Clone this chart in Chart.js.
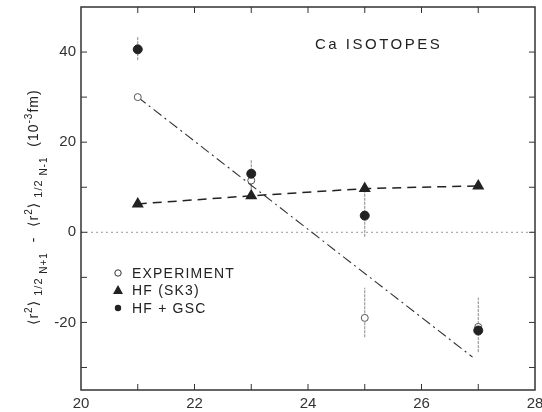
<!DOCTYPE html>
<html>
<head>
<meta charset="utf-8">
<script src="https://cdn.jsdelivr.net/npm/chart.js@4"></script>
<style>
  body { margin: 0; background: #fff; }
  #wrap { width: 542px; height: 412px; }
</style>
</head>
<body>
<div id="wrap"><canvas id="isotopes" width="542" height="412"></canvas></div>
<script>
// neutron number of the isotopes
var isotopeN = [21, 23, 25, 27];
// measured values and the two HF calculations (10^-3 fm)
var experiment = [30, 11.5, -19, -21];
var expErrHigh = [null, 13.5, -12.3, -14.5];
var expErrLow = [null, 9.5, -23.3, -26.6];
var hfSk3 = [6.3, 8.1, 9.7, 10.3];
var hfGsc = [40.6, 13, 3.7, -21.8];
var gscErrHigh = [43.3, 16, 9, null];
var gscErrLow = [38.2, 10, -1, null];
// straight line drawn through the experiment
var fitN = [21, 26.9];
var fitValue = [30, -27.7];
// axis ticks
var xTicks = [20, 22, 24, 26, 28];
var yTicks = [-20, 0, 20, 40];

var fontStack = '"Liberation Sans", "DejaVu Sans", sans-serif';
var ink = '#222';

function pts(xs, ys) {
    return xs.map(function (x, i) { return { x: x, y: ys[i] }; });
}

// no extra room for the end labels, the frame is placed by hand
function noPad(s) {
    s.paddingTop = 0; s.paddingBottom = 0; s.paddingLeft = 0; s.paddingRight = 0;
}

// frame, inward ticks, zero line, error bars, title, legend, y title
var decorations = {
    id: 'decorations',
    beforeDatasetsDraw: function (chart) {
        var ctx = chart.ctx, a = chart.chartArea;
        var xs = chart.scales.x, ys = chart.scales.y;
        ctx.save();
        // dotted zero line
        ctx.strokeStyle = '#999';
        ctx.lineWidth = 1;
        ctx.setLineDash([2, 3]);
        ctx.beginPath();
        ctx.moveTo(a.left, ys.getPixelForValue(0));
        ctx.lineTo(a.right, ys.getPixelForValue(0));
        ctx.stroke();
        // error bars
        ctx.strokeStyle = '#888';
        ctx.setLineDash([3, 1]);
        [[expErrLow, expErrHigh], [gscErrLow, gscErrHigh]].forEach(function (e) {
            isotopeN.forEach(function (n, i) {
                if (e[0][i] === null) return;
                var px = xs.getPixelForValue(n);
                ctx.beginPath();
                ctx.moveTo(px, ys.getPixelForValue(e[0][i]));
                ctx.lineTo(px, ys.getPixelForValue(e[1][i]));
                ctx.stroke();
            });
        });
        ctx.restore();
    },
    afterDraw: function (chart) {
        var ctx = chart.ctx, a = chart.chartArea;
        var xs = chart.scales.x, ys = chart.scales.y;
        ctx.save();
        ctx.strokeStyle = '#333';
        ctx.lineWidth = 1.5;
        ctx.strokeRect(a.left, a.top, a.right - a.left, a.bottom - a.top);
        ctx.lineWidth = 1;
        ctx.beginPath();
        for (var n = 21; n < 28; n++) {
            var px = xs.getPixelForValue(n);
            ctx.moveTo(px, a.bottom); ctx.lineTo(px, a.bottom - 6);
            ctx.moveTo(px, a.top); ctx.lineTo(px, a.top + 6);
        }
        for (var v = -30; v <= 40; v += 10) {
            var py = ys.getPixelForValue(v);
            ctx.moveTo(a.left, py); ctx.lineTo(a.left + 6, py);
            ctx.moveTo(a.right, py); ctx.lineTo(a.right - 6, py);
        }
        ctx.stroke();

        // title
        ctx.fillStyle = ink;
        ctx.font = '15px ' + fontStack;
        ctx.letterSpacing = '2.5px';
        ctx.textBaseline = 'middle';
        ctx.fillText('Ca ISOTOPES', 315, 45);

        // legend
        ctx.font = '14px ' + fontStack;
        ctx.letterSpacing = '1.2px';
        var legendRows = [
            { label: 'EXPERIMENT', y: 273, mark: 'open' },
            { label: 'HF (SK3)', y: 290, mark: 'tri' },
            { label: 'HF + GSC', y: 308, mark: 'dot' }
        ];
        legendRows.forEach(function (r) {
            ctx.beginPath();
            if (r.mark === 'tri') {
                ctx.moveTo(118, r.y - 5); ctx.lineTo(123, r.y + 4); ctx.lineTo(113, r.y + 4);
                ctx.closePath(); ctx.fill();
            } else {
                ctx.arc(118, r.y, 3.2, 0, Math.PI * 2);
                if (r.mark === 'dot') ctx.fill(); else { ctx.lineWidth = 1; ctx.stroke(); }
            }
            ctx.fillText(r.label, 132, r.y + 1);
        });

        // y axis title, rotated, with raised and lowered parts
        var parts = [
            ['\u27E8r', 14, 0], ['2', 10, -6], ['\u27E9', 14, 0], [' 1/2', 11, 4], [' N+1', 10, 9],
            ['  -  ', 14, 0], ['\u27E8r', 14, 0], ['2', 10, -6], ['\u27E9', 14, 0], [' 1/2', 11, 4],
            [' N-1', 10, 9], ['  (10', 14, 0], ['-3', 10, -6], ['fm)', 14, 0]
        ];
        ctx.translate(38, 325);
        ctx.rotate(-Math.PI / 2);
        ctx.textBaseline = 'alphabetic';
        ctx.letterSpacing = '1px';
        var x = 0;
        parts.forEach(function (p) {
            ctx.font = p[1] + 'px ' + fontStack;
            ctx.fillText(p[0], x, p[2]);
            x += ctx.measureText(p[0]).width;
        });
        ctx.restore();
    }
};

new Chart(document.getElementById('isotopes').getContext('2d'), {
    type: 'scatter',
    data: {
        datasets: [{
            label: 'HF + GSC',
            data: pts(isotopeN, hfGsc),
            order: 0,
            pointStyle: 'circle',
            pointRadius: 4.5,
            backgroundColor: ink,
            borderColor: ink,
            showLine: false
        }, {
            label: 'EXPERIMENT',
            data: pts(isotopeN, experiment),
            order: 1,
            pointStyle: 'circle',
            pointRadius: 3.5,
            borderWidth: 1,
            backgroundColor: '#fff',
            borderColor: '#555',
            showLine: false
        }, {
            label: 'HF (SK3)',
            data: pts(isotopeN, hfSk3),
            order: 2,
            pointStyle: 'triangle',
            pointRadius: 5.5,
            backgroundColor: ink,
            borderColor: ink,
            borderWidth: 1.5,
            borderDash: [9, 6],
            showLine: true
        }, {
            label: 'fit',
            data: pts(fitN, fitValue),
            order: 3,
            pointRadius: 0,
            borderColor: '#333',
            borderWidth: 1.1,
            borderDash: [10, 4, 2, 4],
            showLine: true
        }]
    },
    options: {
        responsive: false,
        animation: false,
        layout: { padding: { top: 5, right: 7, left: 0, bottom: 0 } },
        plugins: { legend: { display: false }, tooltip: { enabled: false } },
        scales: {
            x: {
                type: 'linear',
                min: 20, max: 28,
                grid: { display: false, drawTicks: false },
                border: { display: false },
                afterBuildTicks: function (s) { s.ticks = xTicks.map(function (v) { return { value: v }; }); },
                afterFit: function (s) { s.height = 22; noPad(s); },
                ticks: { padding: 5, maxRotation: 0, color: '#333', font: { size: 15, family: fontStack } }
            },
            y: {
                min: -35, max: 50,
                grid: { display: false, drawTicks: false },
                border: { display: false },
                afterBuildTicks: function (s) { s.ticks = yTicks.map(function (v) { return { value: v }; }); },
                afterFit: function (s) { s.width = 81; noPad(s); },
                ticks: { padding: 5, color: '#333', font: { size: 15, family: fontStack } }
            }
        }
    },
    plugins: [decorations]
});
</script>
</body>
</html>
